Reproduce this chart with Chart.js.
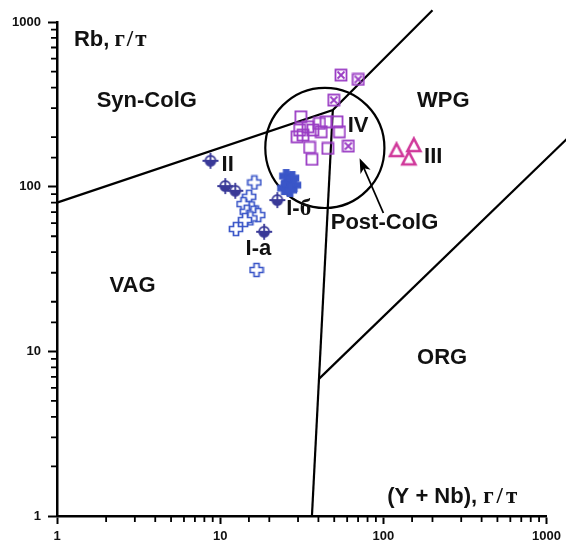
<!DOCTYPE html>
<html>
<head>
<meta charset="utf-8">
<script src="https://cdn.jsdelivr.net/npm/chart.js@4.4.1/dist/chart.umd.min.js"></script>
<style>
  html, body { margin: 0; padding: 0; background: #fff; }
  canvas { display: block; }
</style>
</head>
<body>
<canvas id="rbChart" width="566" height="545"></canvas>
<script>
// Rb vs (Y + Nb), g/t

// group I-a (open crosses)
const iaYNb = [16.2, 15.05, 13.9, 15.6, 14.55, 16.0, 17.1, 15.3, 14.2, 12.5, 16.7];
const iaRb  = [106, 86.8, 78.4, 73.8, 70.4, 69.4, 67.2, 64.2, 62.7, 55.3, 31.2];

// group I-b (filled crosses)
const ibYNb = [25.4, 27.6, 26.1, 28.4, 24.7, 26.8];
const ibRb  = [116, 112.8, 105.2, 102.2, 98, 95.4];

// group II
const iiYNb = [8.72, 10.75, 12.37, 18.6, 22.4];
const iiRb  = [143.6, 100.8, 94.4, 53.2, 82.9];

// group III (triangles)
const iiiYNb = [120.4, 153.7, 143.3];
const iiiRb  = [166.8, 178.9, 148.5];

// group IV (open squares)
const ivYNb = [31.2, 30.7, 32.2, 34.5, 37.0, 40.6, 41.6, 44.6, 52.0, 53.8, 45.7, 35.3, 36.5, 29.6];
const ivRb  = [265.8, 220.7, 205.7, 231, 220.7, 242.3, 215.4, 247.8, 247.8, 215.4, 170.8, 173.2, 146.5, 200.9];

// group IV (crossed squares)
const ivxYNb = [55.0, 70.2, 49.7, 61.0];
const ivxRb  = [476, 448, 335.6, 176.4];

// field boundaries (Pearce et al.)
const synColLine = [[1, 80], [49, 292], [200, 1180]];
const vagWpgLine = [[36.5, 1], [49, 292]];
const orgLine    = [[40.3, 6.8], [2000, 288]];

// post-collisional field: centre and radius in decades
const postColCentre = [43.8, 172];
const postColRadius = 0.365;
const arrowTail = [100, 69.2];
const arrowTip  = [71.5, 149];

const xTicks = [1, 10, 100, 1000];
const yTicks = [1, 10, 100, 1000];

const BLUE = '#3a56c8';
const NAVY = '#3a3a98';
const PURPLE = '#9a3cc4';
const MAGENTA = '#d0389a';

const SANS = 'bold 22px "Liberation Sans", Arial, sans-serif';
const SERIF = 'bold 23px "Liberation Serif", "Times New Roman", serif';

// parts: [text, font, gap before, letter spacing]
const labels = [
  { x: 1.27, y: 776, parts: [['Rb,', SANS, 0, 0], ['г/т', SERIF, 5, 2]] },
  { x: 1.75, y: 330, parts: [['Syn-ColG', SANS, 0, 0]] },
  { x: 161, y: 330, parts: [['WPG', SANS, 0, 0]] },
  { x: 2.1, y: 24.9, parts: [['VAG', SANS, 0, 0]] },
  { x: 161, y: 9.06, parts: [['ORG', SANS, 0, 0]] },
  { x: 47.6, y: 60.3, parts: [['Post-ColG', SANS, 0, 0]] },
  { x: 10.2, y: 136, parts: [['II', SANS, 0, 0]] },
  { x: 14.3, y: 41.8, parts: [['I-a', SANS, 0, 0]] },
  { x: 25.4, y: 73.4, parts: [['I-', SANS, 0, 0], ['б', SERIF, 0, 0]] },
  { x: 60.4, y: 233, parts: [['IV', SANS, 0, 0]] },
  { x: 177.6, y: 152, parts: [['III', SANS, 0, 0]] },
  { x: 105.7, y: 1.31, parts: [['(Y + Nb),', SANS, 0, 0], ['г/т', SERIF, 6, 3]] }
];

function zip(xs, ys) {
  return xs.map((x, i) => ({ x: x, y: ys[i] }));
}
function pairs(arr) {
  return arr.map(p => ({ x: p[0], y: p[1] }));
}
function isDecade(v) {
  return xTicks.includes(v) || yTicks.includes(v);
}

function makeMarker(size, draw) {
  const c = document.createElement('canvas');
  c.width = size; c.height = size;
  draw(c.getContext('2d'), size / 2);
  return c;
}
function plusPath(g, c, r, w) {
  g.beginPath();
  g.moveTo(c - w, c - r); g.lineTo(c + w, c - r); g.lineTo(c + w, c - w); g.lineTo(c + r, c - w);
  g.lineTo(c + r, c + w); g.lineTo(c + w, c + w); g.lineTo(c + w, c + r); g.lineTo(c - w, c + r);
  g.lineTo(c - w, c + w); g.lineTo(c - r, c + w); g.lineTo(c - r, c - w); g.lineTo(c - w, c - w);
  g.closePath();
}

const openPlus = makeMarker(16, (g, c) => {
  plusPath(g, c, 6.5, 2.5);
  g.fillStyle = '#fff'; g.fill();
  g.strokeStyle = BLUE; g.lineWidth = 1.7; g.stroke();
});
const filledPlus = makeMarker(16, (g, c) => {
  plusPath(g, c, 6.5, 2.8);
  g.fillStyle = BLUE; g.fill();
  g.strokeStyle = BLUE; g.lineWidth = 1.2; g.stroke();
});
const halfCircle = makeMarker(18, (g, c) => {
  g.strokeStyle = NAVY; g.lineWidth = 1.8;
  g.beginPath(); g.arc(c, c, 5, 0, Math.PI * 2); g.fillStyle = '#fff'; g.fill();
  g.beginPath(); g.arc(c, c, 5, 0, Math.PI); g.closePath(); g.fillStyle = NAVY; g.fill();
  g.beginPath(); g.arc(c, c, 5, 0, Math.PI * 2); g.stroke();
  g.beginPath();
  g.moveTo(1, c); g.lineTo(17, c);
  g.moveTo(c, 1); g.lineTo(c, 17);
  g.stroke();
});
const openSquare = makeMarker(14, (g, c) => {
  g.strokeStyle = PURPLE; g.lineWidth = 1.8;
  g.strokeRect(1.5, 1.5, 11, 11);
});
const crossSquare = makeMarker(14, (g, c) => {
  g.strokeStyle = PURPLE; g.lineWidth = 1.8;
  g.strokeRect(1.5, 1.5, 11, 11);
  g.beginPath();
  g.moveTo(3.5, 3.5); g.lineTo(10.5, 10.5);
  g.moveTo(10.5, 3.5); g.lineTo(3.5, 10.5);
  g.stroke();
});
const openTriangle = makeMarker(18, (g, c) => {
  g.strokeStyle = MAGENTA; g.lineWidth = 2.6; g.lineJoin = 'miter';
  g.beginPath();
  g.moveTo(9, 2.5); g.lineTo(15.5, 15); g.lineTo(2.5, 15); g.closePath();
  g.stroke();
});

function boundary(points) {
  return {
    data: pairs(points), showLine: true, pointRadius: 0,
    borderColor: '#000', borderWidth: 2.2, clip: false
  };
}
function marks(points, style) {
  return { data: points, pointStyle: style, pointRadius: 7, showLine: false };
}

const extras = {
  id: 'extras',
  beforeDatasetsDraw(chart) {
    const { ctx, scales: { x, y } } = chart;
    // post-collisional circle
    const cx = x.getPixelForValue(postColCentre[0]);
    const cy = y.getPixelForValue(postColCentre[1]);
    const rx = x.getPixelForValue(postColCentre[0] * Math.pow(10, postColRadius)) - cx;
    const ry = cy - y.getPixelForValue(postColCentre[1] * Math.pow(10, postColRadius));
    ctx.save();
    ctx.strokeStyle = '#000'; ctx.lineWidth = 2.2;
    ctx.beginPath(); ctx.ellipse(cx, cy, rx, ry, 0, 0, Math.PI * 2); ctx.stroke();
    // arrow
    const tx = x.getPixelForValue(arrowTail[0]), ty = y.getPixelForValue(arrowTail[1]);
    const hx = x.getPixelForValue(arrowTip[0]), hy = y.getPixelForValue(arrowTip[1]);
    const a = Math.atan2(hy - ty, hx - tx);
    ctx.lineWidth = 1.8;
    ctx.beginPath(); ctx.moveTo(tx, ty); ctx.lineTo(hx - 8 * Math.cos(a), hy - 8 * Math.sin(a)); ctx.stroke();
    ctx.translate(hx, hy); ctx.rotate(a);
    ctx.fillStyle = '#000';
    ctx.beginPath();
    ctx.moveTo(0, 0); ctx.lineTo(-15, -5.5); ctx.lineTo(-11, 0); ctx.lineTo(-15, 5.5); ctx.closePath();
    ctx.fill();
    ctx.restore();
  },
  afterDraw(chart) {
    const { ctx, scales: { x, y } } = chart;
    ctx.save();
    // minor ticks
    ctx.strokeStyle = '#000'; ctx.lineWidth = 1.8;
    ctx.beginPath();
    x.ticks.forEach(t => {
      if (isDecade(t.value)) return;
      const px = x.getPixelForValue(t.value);
      ctx.moveTo(px, y.bottom); ctx.lineTo(px, y.bottom + 6);
    });
    y.ticks.forEach(t => {
      if (isDecade(t.value)) return;
      const py = y.getPixelForValue(t.value);
      ctx.moveTo(x.left, py); ctx.lineTo(x.left - 6, py);
    });
    ctx.stroke();
    // field and group labels
    ctx.fillStyle = '#111';
    ctx.textBaseline = 'middle';
    ctx.textAlign = 'left';
    labels.forEach(l => {
      let px = x.getPixelForValue(l.x);
      const py = y.getPixelForValue(l.y);
      l.parts.forEach(p => {
        ctx.font = p[1];
        ctx.letterSpacing = p[3] + 'px';
        px += p[2];
        ctx.fillText(p[0], px, py);
        px += ctx.measureText(p[0]).width;
      });
      ctx.letterSpacing = '0px';
    });
    ctx.restore();
  }
};

const tickFont = { family: '"Liberation Sans", Arial, sans-serif', size: 13, weight: 'bold' };

new Chart(document.getElementById('rbChart'), {
  type: 'scatter',
  data: {
    datasets: [
      marks(zip(iaYNb, iaRb), openPlus),
      marks(zip(ibYNb, ibRb), filledPlus),
      marks(zip(iiYNb, iiRb), halfCircle),
      marks(zip(ivYNb, ivRb), openSquare),
      marks(zip(ivxYNb, ivxRb), crossSquare),
      marks(zip(iiiYNb, iiiRb), openTriangle),
      boundary(synColLine),
      boundary(vagWpgLine),
      boundary(orgLine)
    ]
  },
  options: {
    responsive: false,
    animation: false,
    events: [],
    layout: { padding: { top: 22, right: 16, left: 0, bottom: 0 } },
    plugins: { legend: { display: false }, tooltip: { enabled: false } },
    scales: {
      x: {
        type: 'logarithmic', min: 1, max: 1000,
        border: { color: '#000', width: 2.5 },
        grid: {
          drawOnChartArea: false, tickLength: 8, tickWidth: 2,
          tickColor: c => (c.tick && isDecade(c.tick.value)) ? '#000' : 'rgba(0,0,0,0)'
        },
        ticks: {
          autoSkip: false, maxRotation: 0, padding: 5, color: '#111', font: tickFont,
          callback: v => xTicks.includes(v) ? String(v) : ''
        },
        afterFit: s => { s.height = 29; }
      },
      y: {
        type: 'logarithmic', min: 1, max: 1000,
        border: { color: '#000', width: 2.5 },
        grid: {
          drawOnChartArea: false, tickLength: 9, tickWidth: 2,
          tickColor: c => (c.tick && isDecade(c.tick.value)) ? '#000' : 'rgba(0,0,0,0)'
        },
        ticks: {
          autoSkip: false, padding: 7, color: '#111', font: tickFont,
          callback: v => yTicks.includes(v) ? String(v) : ''
        },
        afterFit: s => { s.width = 57; }
      }
    }
  },
  plugins: [extras]
});
</script>
</body>
</html>
